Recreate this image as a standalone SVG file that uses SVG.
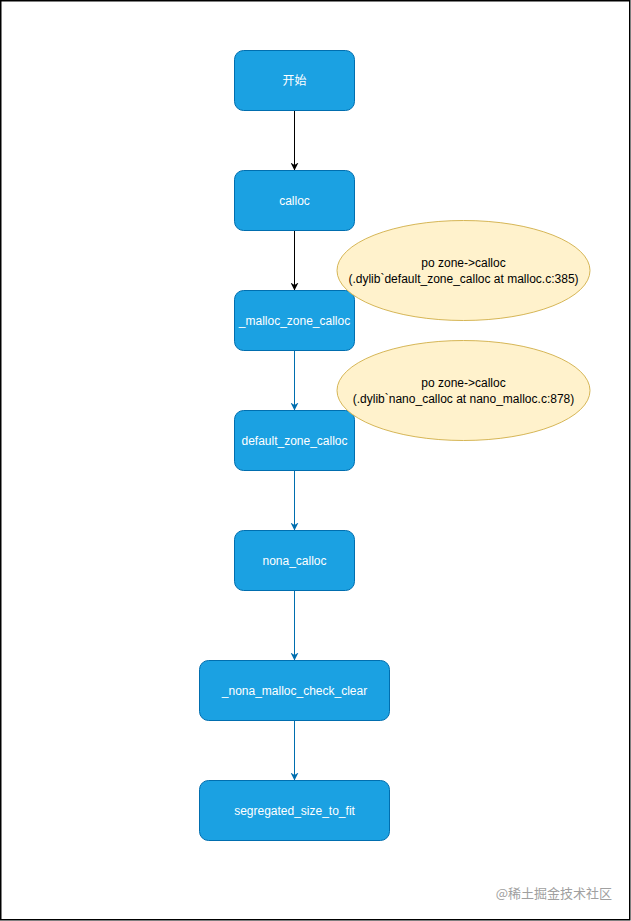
<svg xmlns="http://www.w3.org/2000/svg" width="631" height="921" viewBox="0 0 631 921">
<defs>
<style>
.node rect{fill:#1BA1E2;stroke:#006EAF;stroke-width:1}
.node text{fill:#FFFFFF;font-family:"Liberation Sans","Noto Sans CJK SC",sans-serif;font-size:12px;text-anchor:middle;dominant-baseline:central}
.note ellipse{fill:#FFF2CC;stroke:#D6B656;stroke-width:1}
.note text{fill:#000000;font-family:"Liberation Sans",sans-serif;font-size:12px;text-anchor:middle}
.blk{stroke:#000000;stroke-width:1;fill:none}
.blu{stroke:#006EAF;stroke-width:1;fill:none}
</style>
<marker id="ab" viewBox="0 0 10 10" refX="10" refY="5" markerWidth="8" markerHeight="8" markerUnits="userSpaceOnUse" orient="auto">
<path d="M0,0 L10,5 L0,10 L3,5 Z" fill="#000000"/>
</marker>
<marker id="au" viewBox="0 0 10 10" refX="10" refY="5" markerWidth="8" markerHeight="8" markerUnits="userSpaceOnUse" orient="auto">
<path d="M0,0 L10,5 L0,10 L3,5 Z" fill="#006EAF"/>
</marker>
</defs>
<rect x="0" y="0" width="631" height="921" fill="#FFFFFF"/>
<rect x="0.75" y="0.75" width="629" height="919" fill="none" stroke="#000000" stroke-width="1.5"/>
<g id="connectors">
<line class="blk" x1="294.5" y1="110.5" x2="294.5" y2="170.5" marker-end="url(#ab)"/>
<line class="blk" x1="294.5" y1="230.5" x2="294.5" y2="290.5" marker-end="url(#ab)"/>
<line class="blu" x1="294.5" y1="350.5" x2="294.5" y2="410.5" marker-end="url(#au)"/>
<line class="blu" x1="294.5" y1="470.5" x2="294.5" y2="530.5" marker-end="url(#au)"/>
<line class="blu" x1="294.5" y1="590.5" x2="294.5" y2="660.5" marker-end="url(#au)"/>
<line class="blu" x1="294.5" y1="720.5" x2="294.5" y2="780.5" marker-end="url(#au)"/>
</g>
<g id="n-start" class="node"><rect x="234.5" y="50.5" width="120" height="60" rx="9"/><text x="294.5" y="80.5">开始</text></g>
<g id="n-calloc" class="node"><rect x="234.5" y="170.5" width="120" height="60" rx="9"/><text x="294.5" y="200.5">calloc</text></g>
<g id="n-malloc-zone-calloc" class="node"><rect x="234.5" y="290.5" width="120" height="60" rx="9"/><text x="294.5" y="320.5">_malloc_zone_calloc</text></g>
<g id="n-default-zone-calloc" class="node"><rect x="234.5" y="410.5" width="120" height="60" rx="9"/><text x="294.5" y="440.5">default_zone_calloc</text></g>
<g id="n-nona-calloc" class="node"><rect x="234.5" y="530.5" width="120" height="60" rx="9"/><text x="294.5" y="560.5">nona_calloc</text></g>
<g id="n-check-clear" class="node"><rect x="199.5" y="660.5" width="190" height="60" rx="9"/><text x="294.5" y="690.5">_nona_malloc_check_clear</text></g>
<g id="n-segregated" class="node"><rect x="199.5" y="780.5" width="190" height="60" rx="9"/><text x="294.5" y="810.5">segregated_size_to_fit</text></g>
<g id="note1" class="note"><ellipse cx="463.5" cy="270.5" rx="126.5" ry="50"/><text x="463.5" y="266.5">po zone-&gt;calloc</text><text x="463.5" y="282.5">(.dylib`default_zone_calloc at malloc.c:385)</text></g>
<g id="note2" class="note"><ellipse cx="463.5" cy="390.5" rx="126.5" ry="50"/><text x="463.5" y="386.5">po zone-&gt;calloc</text><text x="463.5" y="402.5">(.dylib`nano_calloc at nano_malloc.c:878)</text></g>
<text x="612" y="898" font-family="'Noto Sans CJK SC',sans-serif" font-size="13" fill="#A0A0A0" text-anchor="end">@稀土掘金技术社区</text>
</svg>
